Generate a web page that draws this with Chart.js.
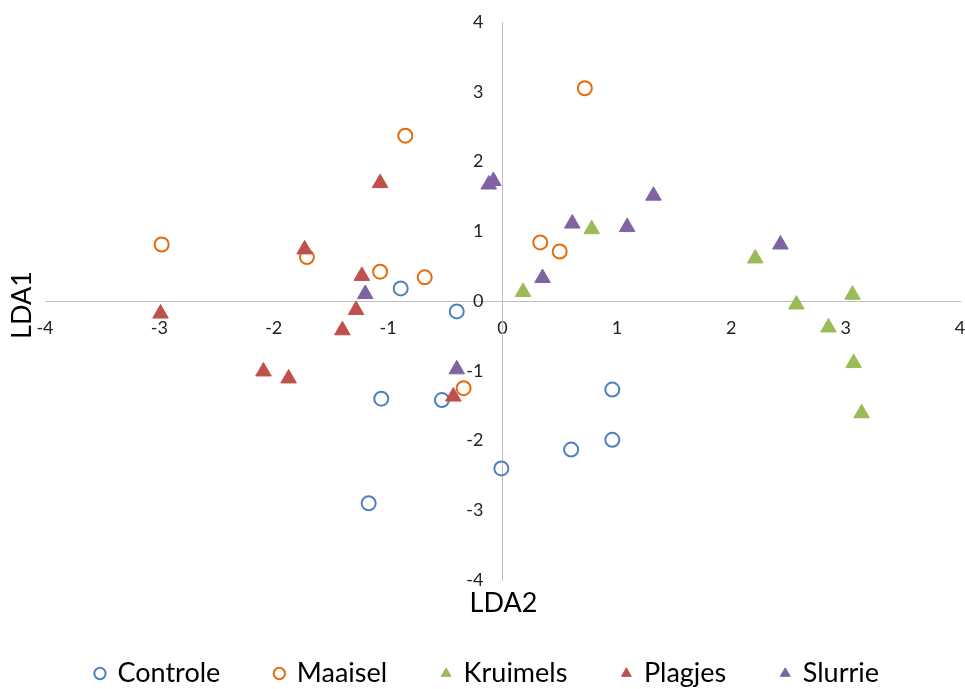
<!DOCTYPE html>
<html>
<head>
<meta charset="utf-8">
<script src="https://cdn.jsdelivr.net/npm/chart.js@4/dist/chart.umd.min.js"></script>
<style>
  html, body { margin: 0; padding: 0; background: #fff; }
  #wrap { width: 965px; height: 689px; }
</style>
</head>
<body>
<div id="wrap"><canvas id="myChart" width="965" height="689"></canvas></div>
<script>
// LDA scores per behandeling (LDA2 = x, LDA1 = y)
const controleX = [-0.89, -0.40, -1.06, -0.53, -1.17, 0.96, 0.96, 0.60, -0.01];
const controleY = [0.18, -0.15, -1.40, -1.42, -2.90, -1.27, -1.99, -2.13, -2.40];
const maaiselX = [-2.98, -1.71, -0.85, -1.07, -0.68, 0.72, 0.33, 0.50, -0.34];
const maaiselY = [0.81, 0.63, 2.37, 0.42, 0.34, 3.05, 0.84, 0.71, -1.25];
const kruimelsX = [0.18, 0.78, 2.21, 2.57, 3.06, 2.85, 3.07, 3.14];
const kruimelsY = [0.13, 1.03, 0.61, -0.05, 0.09, -0.38, -0.89, -1.61];
const plagjesX = [-1.07, -1.73, -1.23, -1.28, -2.99, -1.40, -2.09, -1.87, -0.43];
const plagjesY = [1.69, 0.74, 0.36, -0.13, -0.18, -0.42, -1.01, -1.11, -1.37];
const slurrieX = [-1.20, -0.12, -0.08, 0.61, 1.09, 1.32, 2.43, 0.35, -0.40];
const slurrieY = [0.10, 1.67, 1.72, 1.11, 1.06, 1.51, 0.81, 0.33, -0.98];

const seriesNames = ['Controle', 'Maaisel', 'Kruimels', 'Plagjes', 'Slurrie'];
const seriesColors = ['#4F81BD', '#E46C0A', '#9BBB59', '#C0504D', '#8064A2'];
const axisTicks = [-4, -3, -2, -1, 0, 1, 2, 3, 4];

const FONT = 'Lato, "Open Sans", sans-serif';

function pts(xs, ys) {
    return xs.map((x, i) => ({ x: x, y: ys[i] }));
}

const allX = [controleX, maaiselX, kruimelsX, plagjesX, slurrieX];
const allY = [controleY, maaiselY, kruimelsY, plagjesY, slurrieY];

const datasets = seriesNames.map((name, i) => {
    const open = i < 2; // Controle en Maaisel: open rondjes
    return {
        label: name,
        data: pts(allX[i], allY[i]),
        pointStyle: open ? 'circle' : 'triangle',
        pointRadius: open ? 7 : 9,
        borderWidth: open ? 2 : 1,
        borderColor: seriesColors[i],
        backgroundColor: open ? 'rgba(255,255,255,0)' : seriesColors[i],
        order: seriesNames.length - i // latere reeksen bovenop, zoals in Excel
    };
});

// asTitels tekenen (de assen kruisen in 0, titels staan aan de rand)
const axisTitles = {
    id: 'axisTitles',
    afterLayout(chart) {
        // legenda iets naar links, zoals in het origineel
        chart.legend.left -= 15;
        chart.legend.right -= 15;
    },
    afterDraw(chart) {
        const ctx = chart.ctx;
        const area = chart.chartArea;
        ctx.save();
        ctx.fillStyle = '#000';
        ctx.font = '27px ' + FONT;
        ctx.textAlign = 'center';
        ctx.textBaseline = 'middle';
        ctx.fillText('LDA2', (area.left + area.right) / 2 + 1, 603);
        ctx.translate(22, 305);
        ctx.rotate(-Math.PI / 2);
        ctx.fillText('LDA1', 0, 0);
        ctx.restore();
    }
};

const noPad = axis => {
    axis.paddingLeft = 0;
    axis.paddingRight = 0;
    axis.paddingTop = 0;
    axis.paddingBottom = 0;
};

const ctx = document.getElementById('myChart').getContext('2d');
new Chart(ctx, {
    type: 'scatter',
    data: { datasets: datasets },
    plugins: [axisTitles],
    options: {
        responsive: false,
        animation: false,
        events: [],
        layout: {
            autoPadding: false,
            padding: { left: 45, right: 5, top: 22, bottom: -8 }
        },
        plugins: {
            tooltip: { enabled: false },
            legend: {
                position: 'bottom',
                title: {
                    display: true,
                    text: ' ',
                    font: { size: 10 },
                    padding: { top: 7, bottom: 6 }
                },
                labels: {
                    usePointStyle: true,
                    boxWidth: 8,
                    boxHeight: 8,
                    padding: 55,
                    color: '#000',
                    font: { family: FONT, size: 27 },
                    sort: (a, b) => a.datasetIndex - b.datasetIndex
                }
            }
        },
        scales: {
            x: {
                type: 'linear',
                position: 'center',
                min: -4,
                max: 4,
                afterBuildTicks: axis => { axis.ticks = axisTicks.map(v => ({ value: v })); },
                afterFit: noPad,
                grid: { display: false, drawTicks: false },
                border: { display: true, color: '#BFBFBF', width: 1 },
                ticks: { color: '#222', padding: 16, font: { family: FONT, size: 18 } }
            },
            y: {
                type: 'linear',
                position: 'center',
                min: -4,
                max: 4,
                afterBuildTicks: axis => { axis.ticks = axisTicks.map(v => ({ value: v })); },
                afterFit: noPad,
                grid: { display: false, drawTicks: false },
                border: { display: true, color: '#BFBFBF', width: 1 },
                ticks: { color: '#222', padding: 19, font: { family: FONT, size: 18 } }
            }
        }
    }
});
</script>
</body>
</html>
